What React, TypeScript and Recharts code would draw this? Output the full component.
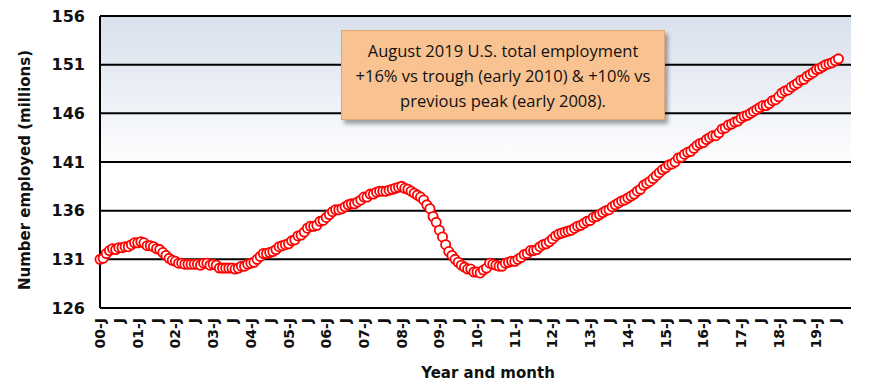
import React from 'react';
import { LineChart, Line, XAxis, YAxis, CartesianGrid } from 'recharts';

// U.S. total employment, millions, monthly (Jan 2000 – Aug 2019)
const EMP_2000 = [131.0, 131.1, 131.6, 131.9, 132.1, 132.0, 132.2, 132.2, 132.3, 132.3, 132.5, 132.7];
const EMP_2001 = [132.7, 132.8, 132.7, 132.4, 132.4, 132.3, 132.1, 132.0, 131.7, 131.4, 131.1, 130.9];
const EMP_2002 = [130.8, 130.6, 130.6, 130.5, 130.5, 130.5, 130.5, 130.5, 130.4, 130.6, 130.6, 130.4];
const EMP_2003 = [130.5, 130.4, 130.1, 130.1, 130.1, 130.1, 130.1, 130.0, 130.1, 130.3, 130.3, 130.5];
const EMP_2004 = [130.6, 130.7, 131.0, 131.3, 131.6, 131.6, 131.7, 131.8, 132.0, 132.3, 132.4, 132.5];
const EMP_2005 = [132.6, 132.9, 133.0, 133.4, 133.5, 133.8, 134.2, 134.4, 134.4, 134.5, 134.9, 135.0];
const EMP_2006 = [135.3, 135.6, 135.9, 136.1, 136.1, 136.2, 136.4, 136.6, 136.7, 136.7, 136.9, 137.1];
const EMP_2007 = [137.4, 137.4, 137.7, 137.7, 137.9, 138.0, 138.0, 138.0, 138.1, 138.2, 138.3, 138.4];
const EMP_2008 = [138.5, 138.3, 138.2, 138.0, 137.8, 137.6, 137.4, 137.1, 136.6, 136.2, 135.4, 134.8];
const EMP_2009 = [134.0, 133.3, 132.5, 131.8, 131.4, 131.0, 130.7, 130.4, 130.2, 130.0, 130.0, 129.7];
const EMP_2010 = [129.7, 129.6, 129.9, 130.1, 130.6, 130.5, 130.4, 130.3, 130.3, 130.6, 130.7, 130.8];
const EMP_2011 = [130.8, 131.0, 131.2, 131.5, 131.6, 131.9, 131.9, 132.0, 132.3, 132.5, 132.6, 132.8];
const EMP_2012 = [133.1, 133.4, 133.6, 133.7, 133.8, 133.9, 134.0, 134.2, 134.4, 134.5, 134.7, 134.9];
const EMP_2013 = [135.0, 135.3, 135.4, 135.6, 135.8, 136.0, 136.1, 136.4, 136.6, 136.8, 137.0, 137.1];
const EMP_2014 = [137.3, 137.5, 137.7, 138.0, 138.2, 138.6, 138.8, 139.0, 139.3, 139.6, 139.9, 140.2];
const EMP_2015 = [140.4, 140.7, 140.8, 141.0, 141.4, 141.5, 141.8, 142.0, 142.1, 142.4, 142.7, 142.9];
const EMP_2016 = [143.0, 143.3, 143.5, 143.7, 143.7, 144.0, 144.4, 144.5, 144.8, 144.9, 145.1, 145.2];
const EMP_2017 = [145.5, 145.7, 145.8, 146.0, 146.2, 146.4, 146.6, 146.8, 146.8, 147.0, 147.3, 147.4];
const EMP_2018 = [147.7, 148.1, 148.3, 148.4, 148.7, 148.9, 149.1, 149.4, 149.5, 149.8, 150.0, 150.2];
const EMP_2019 = [150.5, 150.6, 150.8, 151.0, 151.1, 151.2, 151.4, 151.6];

const SERIES = [
  EMP_2000, EMP_2001, EMP_2002, EMP_2003, EMP_2004, EMP_2005, EMP_2006,
  EMP_2007, EMP_2008, EMP_2009, EMP_2010, EMP_2011, EMP_2012, EMP_2013,
  EMP_2014, EMP_2015, EMP_2016, EMP_2017, EMP_2018, EMP_2019,
];
const YEARS = ['00', '01', '02', '03', '04', '05', '06', '07', '08', '09',
  '10', '11', '12', '13', '14', '15', '16', '17', '18', '19'];
const MONTHS = ['J', 'F', 'M', 'A', 'M', 'J', 'J', 'A', 'S', 'O', 'N', 'D'];
const Y_TICKS = [126, 131, 136, 141, 146, 151, 156];

// category axis runs through Dec 2019, data stops at Aug
const data = YEARS.flatMap((yy, yi) =>
  MONTHS.map((m, mi) => ({
    label: mi === 0 ? `${yy}-J` : m,
    value: SERIES[yi][mi] ?? null,
  }))
);

const FONT = '"DejaVu Sans", Verdana, sans-serif';

const XTick = (props: any) => {
  const { x, y, payload } = props;
  return (
    <text
      x={x}
      y={y}
      transform={`rotate(-90 ${x} ${y})`}
      textAnchor="end"
      dominantBaseline="central"
      fontFamily={FONT}
      fontSize={14}
      fontWeight="bold"
      fill="#111"
    >
      {payload.value}
    </text>
  );
};

export default function App() {
  return (
    <div style={{ position: 'relative', width: 862, height: 382 }}>
      <style>{`.emp-line { filter: drop-shadow(2px 3px 1.5px rgba(0,0,0,0.5)); }`}</style>
      <LineChart width={862} height={382} data={data} margin={{ top: 8, right: 19, bottom: 0, left: 0 }}>
        <defs>
          <linearGradient id="plotBg" x1="0" y1="0" x2="0" y2="1">
            <stop offset="0%" stopColor="#d8e0ec" />
            <stop offset="52%" stopColor="#ffffff" />
            <stop offset="100%" stopColor="#ffffff" />
          </linearGradient>
        </defs>
        <CartesianGrid
          yAxisId="left"
          vertical={false}
          stroke="#000"
          strokeWidth={2}
          strokeOpacity={1}
          fill="url(#plotBg)"
          fillOpacity={1}
        />
        <XAxis
          dataKey="label"
          interval={5}
          height={82}
          tickSize={0}
          tickMargin={10}
          tick={<XTick />}
          axisLine={{ stroke: '#000', strokeWidth: 2 }}
        />
        <YAxis
          yAxisId="left"
          width={92}
          domain={[126, 156]}
          ticks={Y_TICKS}
          interval={0}
          tickSize={0}
          tickMargin={15}
          tick={{ fontFamily: FONT, fontSize: 16, fontWeight: 'bold', fill: '#111' }}
          axisLine={{ stroke: '#000', strokeWidth: 2 }}
        />
        <YAxis
          yAxisId="right"
          orientation="right"
          width={0}
          domain={[126, 156]}
          ticks={Y_TICKS}
          tick={false}
          tickSize={0}
          axisLine={{ stroke: '#222', strokeWidth: 2 }}
        />
        <Line
          yAxisId="left"
          className="emp-line"
          type="linear"
          dataKey="value"
          stroke="#ff0000"
          strokeWidth={1}
          dot={{ r: 4.6, fill: '#fff', stroke: '#ff0000', strokeWidth: 1.8 }}
          activeDot={false}
          isAnimationActive={false}
        />
      </LineChart>

      <div
        style={{
          position: 'absolute', left: 17, top: 162,
          transform: 'translate(-50%, -50%) rotate(-90deg)',
          whiteSpace: 'nowrap', fontFamily: FONT, fontSize: 15, fontWeight: 'bold', color: '#111',
        }}
      >
        Number employed (millions)
      </div>
      <div
        style={{
          position: 'absolute', left: 480, top: 365,
          transform: 'translate(-50%, -50%)',
          whiteSpace: 'nowrap', fontFamily: FONT, fontSize: 15, fontWeight: 'bold', color: '#111',
        }}
      >
        Year and month
      </div>
      <div
        style={{
          position: 'absolute', left: 333, top: 22, width: 324, height: 90, boxSizing: 'border-box',
          background: '#f9c291', border: '1px solid #e0a877',
          boxShadow: '3px 4px 4px rgba(0,0,0,0.35)',
          display: 'flex', alignItems: 'center', justifyContent: 'center', textAlign: 'center',
          fontFamily: '"Open Sans", sans-serif', fontSize: 16.5, lineHeight: '25px', color: '#111',
        }}
      >
        <div>
          August 2019 U.S. total employment
          <br />
          +16% vs trough (early 2010) &amp; +10% vs
          <br />
          previous peak (early 2008).
        </div>
      </div>
    </div>
  );
}
